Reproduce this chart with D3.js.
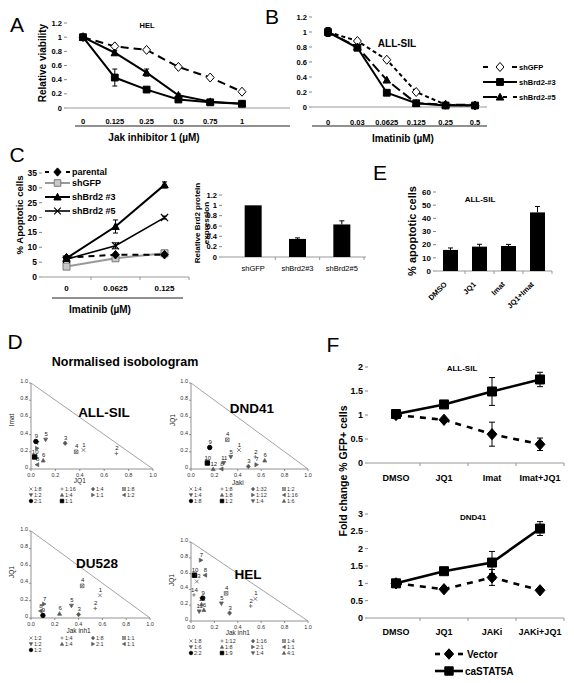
<!DOCTYPE html>
<html><head><meta charset="utf-8">
<script src="https://cdn.jsdelivr.net/npm/d3@7"></script>
<style>body{margin:0;background:#fff}svg{display:block;font-family:"Liberation Sans",Arial,Helvetica,sans-serif}</style>
</head><body><svg id="c" width="574" height="683"></svg>
<script>
// ---------------- DATA ----------------
// Panel A (HEL, Jak inhibitor 1)
const catsA = ["0","0.125","0.25","0.5","0.75","1"];
const aGFP = [1,0.87,0.82,0.58,0.43,0.23];
const aBrd3 = [1,0.43,0.26,0.12,0.08,0.06];
const aBrd3Err = [0,0.12,0.02,0.02,0.01,0.01];
const aBrd5 = [1,0.78,0.5,0.18,0.09,0.06];
const aBrd5Err = [0,0.03,0.05,0.02,0.01,0.01];
const ticksAB = [0,0.2,0.4,0.6,0.8,1,1.2];
// Panel B (ALL-SIL, Imatinib)
const catsB = ["0","0.03","0.0625","0.125","0.25","0.5"];
const bGFP = [1,0.88,0.63,0.2,0.03,0.02];
const bBrd3 = [1,0.79,0.19,0.05,0.02,0.02];
const bBrd3Err = [0.06,0.02,0.02,0.01,0.01,0.01];
const bBrd5 = [1,0.8,0.36,0.05,0.03,0.03];
const legendB = ["shGFP","shBrd2-#3","shBrd2-#5"];
// Panel C left
const catsC = ["0","0.0625","0.125"];
const cParental = [6.5,7.5,7.5];
const cGFP = [3.5,6.3,8];
const cBrd3 = [6.3,17,31];
const cBrd3Err = [0.5,2.2,1];
const cBrd5 = [6,10.5,20];
const cBrd5Err = [0.5,1,0.5];
const ticksC = [0,5,10,15,20,25,30,35];
const legendC = ["parental","shGFP","shBrd2 #3","shBrd2 #5"];
// Panel C right
const catsCb = ["shGFP","shBrd2#3","shBrd2#5"];
const cbVals = [1,0.35,0.63];
const cbErr = [0,0.02,0.07];
// Panel E
const catsE = ["DMSO","JQ1","Imat","JQ1+Imat"];
const eVals = [16,18.5,19,44.5];
const eErr = [1.5,1.8,1.2,4.5];
const ticksE = [0,10,20,30,40,50,60];
// Panel F
const catsF1 = ["DMSO","JQ1","Imat","Imat+JQ1"];
const fVec1 = [1,0.9,0.6,0.39];
const fVec1Err = [0,0.03,0.25,0.13];
const fCa1 = [1.02,1.22,1.49,1.74];
const fCa1Err = [0.02,0.04,0.29,0.15];
const catsF2 = ["DMSO","JQ1","JAKi","JAKi+JQ1"];
const fVec2 = [1,0.83,1.17,0.8];
const fVec2Err = [0,0.03,0.23,0.03];
const fCa2 = [1,1.35,1.6,2.58];
const fCa2Err = [0.02,0.03,0.32,0.2];
const legendF = ["Vector","caSTAT5A"];
// Panel D isobolograms: [label, x, y]
const isoMarkers = ["x","plus","diamondO","boxx","tdown","triangle","tright","tleft","circle","square","tdown","triangle","x","plus"];
const isoAllSil = [["1",0.43,0.22],["2",0.70,0.18],["3",0.28,0.30],["4",0.37,0.20],["5",0.12,0.34],["6",0.10,0.10],["7",0.05,0.24],["8",0.05,0.05],["9",0.04,0.32],["10",0.03,0.14]];
const ratiosAllSil = ["1:8","1:16","1:4","1:8","1:2","1:4","1:1","1:2","2:1","1:1"];
const isoDnd = [["1",0.41,0.22],["2",0.55,0.14],["3",0.49,0.03],["4",0.31,0.34],["5",0.34,0.14],["6",0.63,0.10],["7",0.56,0.05],["8",0.26,0.0],["9",0.16,0.25],["10",0.14,0.07],["11",0.28,0.07],["12",0.19,0.0]];
const ratiosDnd = ["1:4","1:8","1:32","1:2","1:4","1:8","1:12","1:16","1:8","1:2","1:4","1:6"];
const isoDu = [["1",0.58,0.26],["2",0.54,0.11],["3",0.40,0.04],["4",0.43,0.37],["5",0.34,0.14],["6",0.24,0.05],["7",0.11,0.16],["8",0.08,0.08],["9",0.10,0.03]];
const ratiosDu = ["1:2","1:4","1:8","1:1","1:2","1:4","2:1","1:1","1:2"];
const isoHel = [["1",0.55,0.28],["2",0.51,0.19],["3",0.33,0.10],["4",0.30,0.35],["5",0.26,0.22],["6",0.11,0.14],["7",0.085,0.77],["8",0.12,0.58],["9",0.10,0.29],["10",0.03,0.58],["11",0.07,0.12],["12",0.09,0.21],["13",0.05,0.50],["14",0.025,0.33]];
const ratiosHel = ["1:8","1:12","1:16","1:4","1:6","1:8","2:1","1:1","2:2","1:9","1:4","4:1"];
const isoTicks = [0,0.2,0.4,0.6,0.8,1.0];

// ---------------- HELPERS ----------------
const svg = d3.select("#c");
function txt(x,y,s,o={}){
  const t = svg.append("text").attr("x",x).attr("y",y).text(s)
    .attr("font-size",o.size||9).attr("font-weight",o.bold?"bold":"normal")
    .attr("text-anchor",o.anchor||"middle").attr("fill",o.fill||"#000")
    .attr("dy",o.dy!==undefined?o.dy:"0.35em");
  if(o.rot) t.attr("transform",`rotate(${o.rot},${x},${y})`);
  return t;
}
function ln(x1,y1,x2,y2,stroke,w,dash){
  const l = svg.append("line").attr("x1",x1).attr("y1",y1).attr("x2",x2).attr("y2",y2)
    .attr("stroke",stroke||"#000").attr("stroke-width",w||1);
  if(dash) l.attr("stroke-dasharray",dash);
  return l;
}
function symPath(m,r){
  switch(m){
    case "square": return `M${-r},${-r}h${2*r}v${2*r}h${-2*r}Z`;
    case "diamond": case "diamondO": return `M0,${-r*1.25}L${r*1.1},0L0,${r*1.25}L${-r*1.1},0Z`;
    case "triangle": return `M0,${-r*1.1}L${r*1.1},${r*0.9}L${-r*1.1},${r*0.9}Z`;
    case "tdown": return `M0,${r*1.1}L${r*1.1},${-r*0.9}L${-r*1.1},${-r*0.9}Z`;
    case "tright": return `M${r*1.1},0L${-r*0.9},${-r*1.1}L${-r*0.9},${r*1.1}Z`;
    case "tleft": return `M${-r*1.1},0L${r*0.9},${-r*1.1}L${r*0.9},${r*1.1}Z`;
    case "x": return `M${-r},${-r}L${r},${r}M${-r},${r}L${r},${-r}`;
    case "plus": return `M${-r},0H${r}M0,${-r}V${r}`;
    case "boxx": return `M${-r},${-r}h${2*r}v${2*r}h${-2*r}ZM${-r},${-r}L${r},${r}M${-r},${r}L${r},${-r}`;
    case "circle": return `M${r},0A${r},${r} 0 1,1 ${-r},0A${r},${r} 0 1,1 ${r},0Z`;
  }
}
function marker(m,x,y,r,fill,stroke,sw){
  const open = (m==="x"||m==="plus"||m==="boxx");
  svg.append("path").attr("d",symPath(m,r)).attr("transform",`translate(${x},${y})`)
    .attr("fill",open?"none":fill).attr("stroke",stroke||"#000").attr("stroke-width",sw||1);
}
function errBars(xs,ys,vals,errs,cap,color){
  vals.forEach((v,i)=>{
    if(!errs||!errs[i]) return;
    const x=xs(i);
    ln(x,ys(v-errs[i]),x,ys(v+errs[i]),color||"#000",1);
    ln(x-cap,ys(v+errs[i]),x+cap,ys(v+errs[i]),color||"#000",1);
    ln(x-cap,ys(v-errs[i]),x+cap,ys(v-errs[i]),color||"#000",1);
  });
}
function series(xs,ys,vals,o){
  svg.append("path").attr("d",d3.line()(vals.map((v,i)=>[xs(i),ys(v)])))
    .attr("fill","none").attr("stroke",o.color||"#000").attr("stroke-width",o.w||2)
    .attr("stroke-dasharray",o.dash||null);
  errBars(xs,ys,vals,o.err,o.cap||2.5,"#000");
  vals.forEach((v,i)=>marker(o.m,xs(i),ys(v),o.r||3.5,o.fill||"#000",o.stroke||"#000",o.sw||1));
}
// legend sample: either solid line or "- marker -" split dashes
function legendSample(x1,x2,y,m,o){
  const mid=(x1+x2)/2;
  if(o.split){
    ln(x1,y,x1+o.split,y,o.color||"#000",o.w||2);
    ln(x2-o.split,y,x2,y,o.color||"#000",o.w||2);
  } else {
    ln(x1,y,x2,y,o.color||"#000",o.w||2,o.dash);
  }
  marker(m,mid,y,o.r||3.4,o.fill||"#000",o.stroke||"#000",o.sw||1);
}
function yTicks(ys,vals,xAxis,o={}){
  vals.forEach(v=>{
    ln(xAxis-3,ys(v),xAxis,ys(v),"#888",1);
    txt(xAxis-5,ys(v),o.fmt?o.fmt(v):String(v),{size:o.size||8,bold:true,anchor:"end"});
  });
}
function letter(x,y,s){ txt(x,y,s,{size:21}); }

// ---------------- PANEL A ----------------
letter(17,25,"A");
{
  const x = d3.scalePoint().domain(catsA).range([83,242]);
  const xs = i=>x(catsA[i]);
  const y = d3.scaleLinear().domain([0,1.2]).range([108,23]);
  ln(67,108,290,108,"#999",1);
  yTicks(y,ticksAB,67,{size:7.5});
  catsA.forEach(c=>txt(x(c),121,c,{size:7.5,bold:true}));
  ln(75,126,290,126,"#222",1);
  txt(154,137,"Jak inhibitor 1 (µM)",{size:10,bold:true});
  txt(42,63,"Relative viability",{size:10,bold:true,rot:-90});
  txt(147,25,"HEL",{size:7.5,bold:true});
  series(xs,y,aGFP,{m:"diamondO",fill:"#fff",dash:"8,5",r:3.6});
  series(xs,y,aBrd5,{m:"triangle",err:aBrd5Err,r:3.4});
  series(xs,y,aBrd3,{m:"square",err:aBrd3Err,r:3.4});
}

// ---------------- PANEL B ----------------
letter(272,17,"B");
{
  const x = d3.scalePoint().domain(catsB).range([328,475]);
  const xs = i=>x(catsB[i]);
  const y = d3.scaleLinear().domain([0,1.2]).range([107,17]);
  ln(312,107,487,107,"#999",1);
  yTicks(y,ticksAB,312,{size:7.5});
  catsB.forEach(c=>txt(x(c),122,c,{size:7.5,bold:true}));
  ln(312,126,487,126,"#222",1);
  txt(403,138,"Imatinib (µM)",{size:10,bold:true});
  txt(397,43,"ALL-SIL",{size:10,bold:true});
  series(xs,y,bGFP,{m:"diamondO",fill:"#fff",dash:"4,3",r:3.6});
  series(xs,y,bBrd5,{m:"triangle",dash:"10,4",r:3.4});
  series(xs,y,bBrd3,{m:"square",err:bBrd3Err,r:3.4});
  const ly = d3.scalePoint().domain(legendB).range([67,97]);
  legendSample(483,517,ly(legendB[0]),"diamondO",{split:5,fill:"#fff",r:3.6});
  legendSample(483,517,ly(legendB[1]),"square",{});
  legendSample(483,517,ly(legendB[2]),"triangle",{dash:"14,6,4,6"});
  legendB.forEach(s=>txt(519,ly(s),s,{size:7.5,bold:true,anchor:"start"}));
}

// ---------------- PANEL C (line) ----------------
letter(17,155,"C");
{
  const x = d3.scaleBand().domain(catsC).range([42,189]);
  const xs = i=>x(catsC[i])+x.bandwidth()/2;
  const y = d3.scaleLinear().domain([0,35]).range([277,173]);
  ln(42,277,189,277,"#999",1);
  catsC.forEach(c=>ln(x(c)+x.bandwidth(),277,x(c)+x.bandwidth(),280,"#999",1));
  yTicks(y,ticksC,42,{size:8.5});
  catsC.forEach(c=>txt(x(c)+x.bandwidth()/2,288,c,{size:8,bold:true}));
  ln(52,298,183,298,"#222",1);
  txt(100,309,"Imatinib (µM)",{size:10,bold:true});
  txt(20,215,"% Apoptotic cells",{size:9.5,bold:true,rot:-90});
  series(xs,y,cGFP,{m:"square",color:"#999",fill:"#c8c8c8",stroke:"#7a7a7a",r:3.5});
  series(xs,y,cParental,{m:"diamond",dash:"6,5",r:3.4});
  series(xs,y,cBrd5,{m:"x",err:cBrd5Err,r:3.6,w:1.6,sw:1.2});
  series(xs,y,cBrd3,{m:"triangle",err:cBrd3Err,r:3.4});
  const ly = [172,183,197,211];
  legendSample(45,70,ly[0],"diamond",{split:4,r:3.3});
  legendSample(45,70,ly[1],"square",{color:"#999",fill:"#c8c8c8",stroke:"#7a7a7a",r:3.3});
  legendSample(45,70,ly[2],"triangle",{r:3.3});
  legendSample(45,70,ly[3],"x",{w:1.6,r:3.3,sw:1.2});
  legendC.forEach((s,i)=>txt(72,ly[i],s,{size:9,bold:true,anchor:"start"}));
}

// ---------------- PANEL C (bars) ----------------
{
  const x = d3.scaleBand().domain(catsCb).range([231,364]);
  const y = d3.scaleLinear().domain([0,1.2]).range([257,195]);
  const bw = 17;
  ln(222,257,366,257,"#999",1);
  catsCb.forEach(c=>ln(x(c)+x.bandwidth(),257,x(c)+x.bandwidth(),260,"#999",1));
  yTicks(y,[0,0.2,0.4,0.6,0.8,1,1.2],222,{size:7.5});
  catsCb.forEach((c,i)=>{
    const cx = x(c)+x.bandwidth()/2;
    svg.append("rect").attr("x",cx-bw/2).attr("y",y(cbVals[i])).attr("width",bw)
      .attr("height",y(0)-y(cbVals[i])).attr("fill","#000");
    if(cbErr[i]){
      ln(cx,y(cbVals[i]),cx,y(cbVals[i]+cbErr[i]),"#000",1);
      ln(cx-2.5,y(cbVals[i]+cbErr[i]),cx+2.5,y(cbVals[i]+cbErr[i]),"#000",1);
    }
    txt(cx,268,c,{size:7.5});
  });
  txt(197,223,"Relative Brd2 protein",{size:8,bold:true,rot:-90});
  txt(206,223,"expression",{size:8,bold:true,rot:-90});
}

// ---------------- PANEL D ----------------
letter(15,342,"D");
txt(125,362,"Normalised isobologram",{size:12.5,bold:true});
function iso(cfg,pts,ratios){
  const x = d3.scaleLinear().domain([0,1]).range([cfg.x0,cfg.x1]);
  const y = d3.scaleLinear().domain([0,1]).range([cfg.y0,cfg.y1]);
  ln(x(0),y(0),x(1),y(0),"#777",0.8);
  ln(x(0),y(0),x(0),y(1),"#777",0.8);
  ln(x(0),y(1),x(1),y(0),"#999",0.9);
  isoTicks.forEach(t=>{
    ln(x(t),y(0),x(t),y(0)+2,"#777",0.8);
    ln(x(0)-2,y(t),x(0),y(t),"#777",0.8);
    txt(x(t),y(0)+6.5,t.toFixed(1),{size:5.5,fill:"#333"});
    txt(x(0)-3,y(t)-2,t===0?"0":t.toFixed(1),{size:5.5,fill:"#333",anchor:"end"});
  });
  txt(cfg.tx,cfg.ty,cfg.title,{size:13.5,bold:true});
  txt((cfg.x0+cfg.x1)/2-(cfg.x1-cfg.x0)*0.1,y(0)+cfg.xly,cfg.xlab,{size:6.5,fill:"#222"});
  txt(cfg.ylx,cfg.yly,cfg.ylab,{size:6.5,fill:"#222",rot:-90});
  pts.forEach((p,i)=>{
    const m = isoMarkers[i];
    const filled = (m==="circle"||m==="square");
    marker(m,x(p[1]),y(p[2]),filled?2.2:1.8,filled?"#000":"#555",filled?"#000":"#666",filled?1:0.8);
    txt(x(p[1])+0.5,y(p[2])-5.5,p[0],{size:6,fill:"#222"});
  });
  ratios.forEach((r,i)=>{
    const col=i%4,row=Math.floor(i/4);
    const lx = cfg.x0+col*31, lyy = y(0)+20+row*6;
    const m = isoMarkers[i];
    const filled = (m==="circle"||m==="square");
    marker(m,lx,lyy,filled?1.8:1.5,filled?"#000":"#555",filled?"#000":"#666",0.7);
    txt(lx+3,lyy,r,{size:5.5,anchor:"start",fill:"#333"});
  });
}
iso({x0:31,x1:153,y0:469,y1:383,title:"ALL-SIL",tx:104,ty:412,xlab:"JQ1",xly:12,ylab:"Imat",ylx:12,yly:420},isoAllSil,ratiosAllSil);
iso({x0:191,x1:308,y0:469,y1:383,title:"DND41",tx:252,ty:408,xlab:"Jaki",xly:14,ylab:"JQ1",ylx:173,yly:420},isoDnd,ratiosDnd);
iso({x0:31,x1:150,y0:618,y1:531,title:"DU528",tx:97,ty:563,xlab:"Jak inh1",xly:13,ylab:"JQ1",ylx:12,yly:572},isoDu,ratiosDu);
iso({x0:191,x1:308,y0:621,y1:542,title:"HEL",tx:248,ty:574,xlab:"Jak inh1",xly:12,ylab:"JQ1",ylx:172,yly:580},isoHel,ratiosHel);

// ---------------- PANEL E ----------------
letter(380,173,"E");
{
  const x = d3.scaleBand().domain(catsE).range([436,552]);
  const y = d3.scaleLinear().domain([0,60]).range([271,192]);
  const bw = 15;
  ln(436,271,552,271,"#999",1);
  catsE.forEach(c=>ln(x(c)+x.bandwidth(),271,x(c)+x.bandwidth(),274,"#999",1));
  yTicks(y,ticksE,436,{size:8});
  catsE.forEach((c,i)=>{
    const cx = x(c)+x.bandwidth()/2;
    svg.append("rect").attr("x",cx-bw/2).attr("y",y(eVals[i])).attr("width",bw)
      .attr("height",y(0)-y(eVals[i])).attr("fill","#000");
    ln(cx,y(eVals[i]),cx,y(eVals[i]+eErr[i]),"#000",1);
    ln(cx-2.5,y(eVals[i]+eErr[i]),cx+2.5,y(eVals[i]+eErr[i]),"#000",1);
    txt(cx-5,283,c,{size:7.5,bold:true,anchor:"end",rot:-45});
  });
  txt(480,199,"ALL-SIL",{size:8,bold:true});
  txt(412,231,"% apoptotic cells",{size:11,bold:true,rot:-90});
}

// ---------------- PANEL F ----------------
letter(333,345,"F");
function fPlot(cats,vec,vecErr,ca,caErr,y0,y1,ymax,title,tx,ty,labY){
  const x = d3.scaleBand().domain(cats).range([372,564]);
  const xs = i=>x(cats[i])+x.bandwidth()/2;
  const y = d3.scaleLinear().domain([0,ymax]).range([y0,y1]);
  ln(368,y0,564,y0,"#999",1);
  cats.forEach(c=>ln(x(c)+x.bandwidth(),y0,x(c)+x.bandwidth(),y0+3,"#999",1));
  yTicks(y,d3.range(0,ymax+0.01,0.5),368,{size:9});
  cats.forEach(c=>txt(x(c)+x.bandwidth()/2,labY,c,{size:9,bold:true}));
  txt(tx,ty,title,{size:8,bold:true});
  series(xs,y,vec,{m:"diamond",err:vecErr,dash:"6,6",w:2.6,r:4.5,cap:3});
  series(xs,y,ca,{m:"square",err:caErr,w:2.6,r:4.5,cap:3});
}
fPlot(catsF1,fVec1,fVec1Err,fCa1,fCa1Err,463,367,2,"ALL-SIL",462,368,478);
fPlot(catsF2,fVec2,fVec2Err,fCa2,fCa2Err,618,514,3,"DND41",473,517,632);
txt(343,471,"Fold change % GFP+ cells",{size:10.5,bold:true,rot:-90});
{
  const ly = d3.scalePoint().domain(legendF).range([654,671]);
  legendSample(435,463,ly("Vector"),"diamond",{split:5,w:2.6,r:4.2});
  legendSample(435,463,ly("caSTAT5A"),"square",{w:2.6,r:4.2});
  txt(467,ly("Vector"),"Vector",{size:10,bold:true,anchor:"start"});
  txt(465,ly("caSTAT5A"),"caSTAT5A",{size:10,bold:true,anchor:"start"});
}
</script></body></html>
